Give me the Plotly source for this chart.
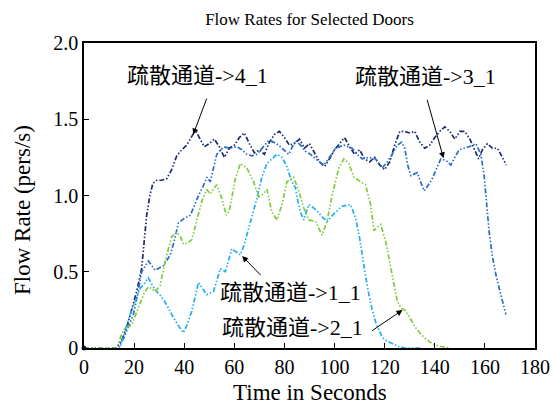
import plotly.graph_objects as go

# ---- data ----
t_41 = [0, 13, 15, 17, 19, 21, 23, 24, 25, 26.3, 27.5, 29, 31, 33, 35, 37, 39, 41, 43, 44.5, 46, 48, 50, 52, 54, 56, 58, 60, 62, 64, 66, 68, 70, 72, 74, 76, 78, 80, 82, 84, 86, 88, 90, 92, 94, 96, 98, 100, 102, 104, 106, 108, 110, 112, 114, 116, 118, 120, 122, 124, 126, 128, 130, 132, 134, 136, 138, 140, 142, 144, 146, 148, 150, 152, 154, 156, 157.5, 159, 161, 163, 165, 167, 168.5]
v_41 = [0, 0, 0.05, 0.13, 0.25, 0.37, 0.52, 0.72, 0.87, 1.00, 1.08, 1.10, 1.10, 1.11, 1.17, 1.26, 1.30, 1.33, 1.39, 1.43, 1.38, 1.32, 1.34, 1.37, 1.32, 1.25, 1.31, 1.33, 1.38, 1.41, 1.34, 1.28, 1.30, 1.27, 1.35, 1.40, 1.42, 1.38, 1.33, 1.34, 1.37, 1.31, 1.34, 1.28, 1.22, 1.19, 1.24, 1.30, 1.34, 1.38, 1.32, 1.27, 1.30, 1.24, 1.22, 1.25, 1.20, 1.17, 1.22, 1.33, 1.42, 1.42, 1.41, 1.42, 1.35, 1.31, 1.33, 1.38, 1.42, 1.45, 1.42, 1.37, 1.42, 1.42, 1.37, 1.30, 1.24, 1.30, 1.34, 1.31, 1.31, 1.25, 1.20]

t_31 = [0, 13.5, 16, 18, 19.7, 21.5, 23, 25.7, 28.4, 31.7, 34.4, 36, 37.7, 40, 42.4, 44, 45.7, 47.5, 49.1, 50.4, 52, 53, 55.7, 58, 61, 63, 65, 67, 69, 71, 73.7, 75.7, 77.7, 79.7, 81.7, 84.4, 86.4, 88.4, 90.4, 92.4, 95.7, 98, 100.4, 103.7, 107, 109, 111, 113.7, 116.4, 119, 121, 123, 125, 126.8, 128, 129.2, 130.4, 133, 134.5, 135.7, 137.5, 139, 140.8, 142.4, 144.5, 146.4, 148, 149.7, 151.7, 153.7, 156.4, 158.4, 159.7, 161.7, 163, 164.4, 166.5, 168.4]
v_31 = [0, 0, 0.07, 0.15, 0.22, 0.36, 0.50, 0.57, 0.51, 0.54, 0.61, 0.70, 0.82, 0.85, 0.87, 0.93, 1.00, 1.06, 1.12, 1.09, 1.20, 1.27, 1.32, 1.31, 1.32, 1.30, 1.27, 1.26, 1.27, 1.31, 1.36, 1.35, 1.33, 1.30, 1.27, 1.36, 1.33, 1.29, 1.27, 1.24, 1.20, 1.25, 1.31, 1.33, 1.31, 1.27, 1.24, 1.25, 1.24, 1.18, 1.22, 1.27, 1.33, 1.35, 1.31, 1.20, 1.13, 1.15, 1.09, 1.03, 1.07, 1.11, 1.18, 1.24, 1.23, 1.20, 1.25, 1.30, 1.31, 1.32, 1.34, 1.27, 1.13, 0.76, 0.60, 0.48, 0.34, 0.22]

t_11 = [0, 14.4, 16.5, 18.4, 20.5, 22.4, 24, 25.7, 27.3, 29, 30.7, 32.4, 35, 37.5, 39.7, 41.3, 43, 44.5, 45.7, 47.3, 49, 51.7, 53, 54.4, 56.4, 57.8, 59, 60.8, 62.4, 63.8, 65, 67, 69, 71, 73, 75, 77, 79, 81, 82.7, 84.4, 85.5, 86.4, 87.7, 89.7, 91.5, 93, 95, 97, 99.7, 103, 106.4, 108.4, 110, 111, 112.4, 113.7, 115, 116.4, 118, 119, 121, 123, 125.5, 128, 135]
v_11 = [0, 0, 0.12, 0.22, 0.31, 0.39, 0.42, 0.46, 0.41, 0.37, 0.34, 0.30, 0.22, 0.15, 0.10, 0.16, 0.24, 0.35, 0.43, 0.39, 0.35, 0.37, 0.45, 0.52, 0.50, 0.58, 0.65, 0.63, 0.61, 0.67, 0.74, 0.86, 0.98, 1.12, 1.21, 1.24, 1.27, 1.25, 1.19, 1.10, 1.05, 0.95, 0.89, 0.84, 0.94, 0.92, 0.90, 0.86, 0.83, 0.88, 0.93, 0.94, 0.85, 0.72, 0.61, 0.47, 0.35, 0.25, 0.17, 0.10, 0.07, 0.045, 0.03, 0.01, 0.0, 0.0]

t_21 = [0, 13, 15.7, 17.5, 19, 20.7, 22.4, 24, 25.7, 27, 28.4, 30.4, 32.4, 34, 35, 37, 38.5, 39.7, 41.5, 43, 45, 47, 49, 50.4, 52, 53, 55, 56.8, 58, 59, 60.4, 62.4, 65, 67.7, 69.7, 71.5, 73, 75, 77, 79, 81, 83.7, 85.7, 87.7, 89.7, 92.4, 95, 97, 99, 101.7, 103.7, 105.7, 107.7, 110.4, 112.4, 114.4, 115.7, 117, 118.4, 120.4, 122, 123.5, 125, 126.5, 128, 130, 132, 134, 136, 138, 140, 143, 146]
v_21 = [0, 0, 0.12, 0.14, 0.15, 0.22, 0.30, 0.36, 0.40, 0.39, 0.37, 0.41, 0.57, 0.68, 0.73, 0.76, 0.73, 0.68, 0.69, 0.71, 0.83, 0.96, 1.04, 1.01, 1.05, 1.07, 0.98, 0.87, 0.90, 0.98, 1.11, 1.21, 1.18, 1.09, 0.99, 1.01, 1.04, 0.89, 0.84, 0.94, 1.09, 1.12, 1.03, 0.92, 0.84, 0.83, 0.74, 0.83, 1.00, 1.18, 1.24, 1.21, 1.12, 1.09, 1.07, 0.94, 0.77, 0.79, 0.81, 0.70, 0.56, 0.42, 0.31, 0.26, 0.25, 0.20, 0.14, 0.10, 0.065, 0.04, 0.02, 0.008, 0]

x_ticks = [0, 20, 40, 60, 80, 100, 120, 140, 160, 180]
y_ticks = [0, 0.5, 1.0, 1.5, 2.0]
y_ticktext = ["0", "0.5", "1.0", "1.5", "2.0"]

labels = ["疏散通道->4_1", "疏散通道->3_1", "疏散通道->1_1", "疏散通道->2_1"]
label_pos = [(45.2, 1.784), (136.4, 1.78), (82.4, 0.364), (83.1, 0.134)]
arrow_tip = [(43.6, 1.40), (143.5, 1.244), (63.1, 0.603), (127.1, 0.249)]
arrow_start = [(49.2, 1.646), (136.8, 1.637), (71.1, 0.468), (114.4, 0.107)]

FONT = "Liberation Serif, Times New Roman, Noto Sans CJK SC, serif"
DASH = "5px,2px,1.5px,2px,1.5px,2px"

series = [
    (t_41, v_41, "#1c2a6c"),
    (t_31, v_31, "#2a6ccc"),
    (t_11, v_11, "#22aef0"),
    (t_21, v_21, "#7fcb3c"),
]

fig = go.Figure()
for t, v, c in series:
    fig.add_trace(go.Scatter(x=t, y=v, mode="lines",
                             line=dict(color=c, width=1.7, dash=DASH),
                             showlegend=False, hoverinfo="skip"))
# start dot at origin
fig.add_trace(go.Scatter(x=[t_41[0]], y=[v_41[0]], mode="markers",
                         marker=dict(color="#1c2a6c", size=5),
                         showlegend=False, cliponaxis=False, hoverinfo="skip"))

for txt, (lx, ly) in zip(labels, label_pos):
    fig.add_annotation(x=lx, y=ly, xref="x", yref="y", text=txt, showarrow=False,
                       font=dict(family=FONT, size=22, color="black"))
for (tx, ty), (sx, sy) in zip(arrow_tip, arrow_start):
    fig.add_annotation(x=tx, y=ty, ax=sx, ay=sy, xref="x", yref="y",
                       axref="x", ayref="y", text="", showarrow=True,
                       arrowhead=2, arrowsize=1.2, arrowwidth=1, arrowcolor="black",
                       standoff=0, startstandoff=0)

# axis titles placed as annotations
fig.add_annotation(x=(22 - 84) / 451, y=(348 - 210) / 305, xref="paper", yref="paper",
                   text="Flow Rate (pers/s)", textangle=-90, showarrow=False,
                   xanchor="center", yanchor="middle",
                   font=dict(family=FONT, size=23, color="black"))
fig.add_annotation(x=0.5, y=(348 - 392) / 305, xref="paper", yref="paper",
                   text="Time in Seconds", showarrow=False,
                   xanchor="center", yanchor="middle",
                   font=dict(family=FONT, size=23, color="black"))

fig.update_layout(
    width=554, height=405,
    margin=dict(l=84, r=19, t=43, b=57),
    paper_bgcolor="white", plot_bgcolor="white",
    font=dict(family=FONT, color="black"),
    title=dict(text="Flow Rates for Selected Doors", x=0.5, xref="paper",
               y=1 - 19 / 405, yref="container", yanchor="middle",
               font=dict(family=FONT, size=17, color="black")),
    xaxis=dict(range=[0, 180], tickvals=x_ticks, ticks="inside", ticklen=5,
               tickcolor="black", showline=True, linecolor="black", linewidth=1.5,
               mirror=True, showgrid=False, zeroline=False, automargin=False,
               tickfont=dict(family=FONT, size=20)),
    yaxis=dict(range=[0, 2], tickvals=y_ticks, ticktext=y_ticktext, ticks="inside", ticklen=5,
               tickcolor="black", showline=True, linecolor="black", linewidth=1.5,
               mirror=True, showgrid=False, zeroline=False, automargin=False,
               tickfont=dict(family=FONT, size=20)),
)

fig.write_html("out.html", config={"displayModeBar": False},
               post_script="document.body.style.margin='0';document.body.style.overflow='hidden';")
